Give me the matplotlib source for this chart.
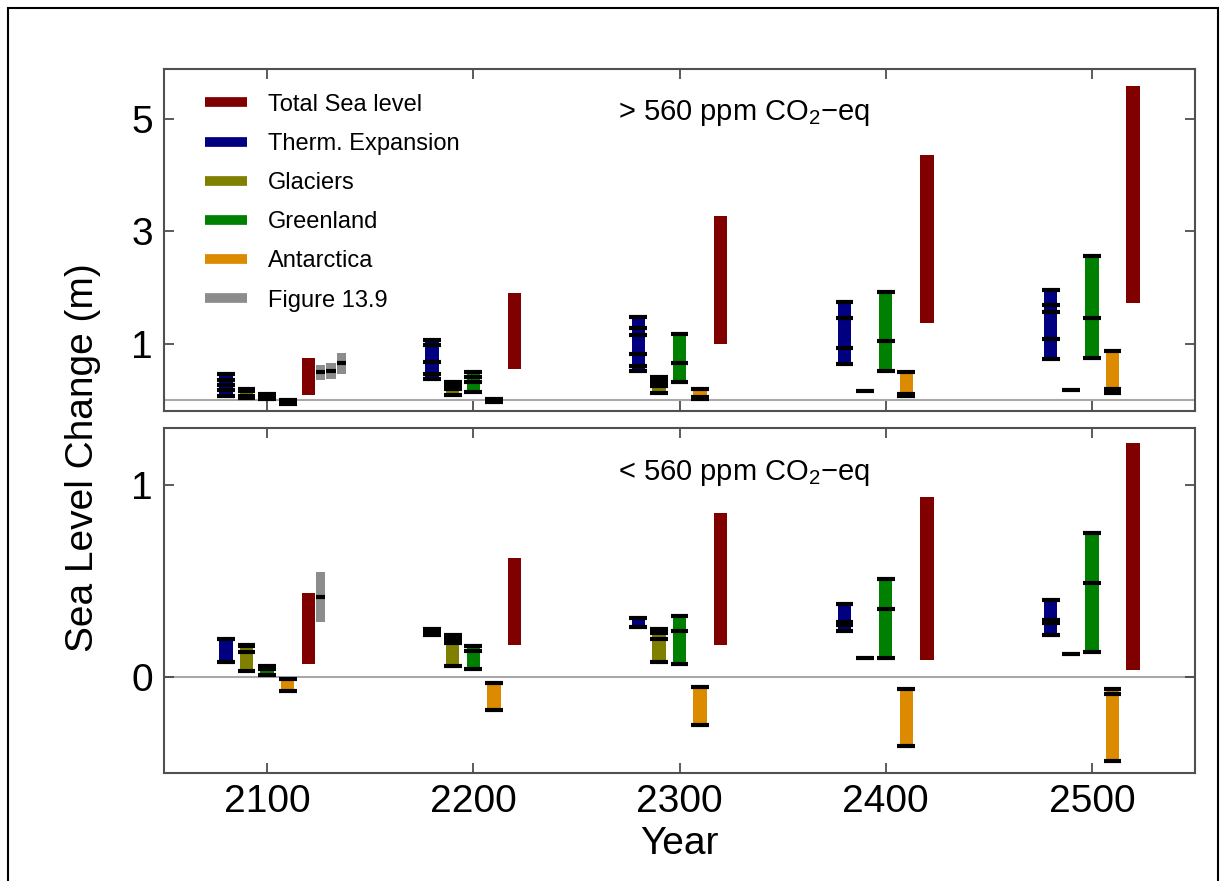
import numpy as np
import matplotlib
matplotlib.use("Agg")
import matplotlib.pyplot as plt
from matplotlib.lines import Line2D
from matplotlib.patches import Rectangle

plt.rcParams['font.family'] = ['Liberation Sans', 'DejaVu Sans']
plt.rcParams['mathtext.fontset'] = 'custom'
plt.rcParams['mathtext.rm'] = 'Liberation Sans'

years = [2100, 2200, 2300, 2400, 2500]

# > 560 ppm: each bar spans min..max, black lines at every value
hi_thermal = [[0.07, 0.17, 0.26, 0.35, 0.46], [0.37, 0.45, 0.68, 0.98, 1.07],
              [0.51, 0.60, 0.82, 1.16, 1.27, 1.48], [0.64, 0.92, 1.45, 1.74],
              [0.72, 1.08, 1.57, 1.68, 1.95]]
hi_glaciers = [[0.03, 0.07, 0.15, 0.19], [0.09, 0.19, 0.25, 0.31],
               [0.12, 0.24, 0.30, 0.36, 0.41], [0.15], [0.17]]
hi_greenland = [[0.02, 0.06, 0.10], [0.14, 0.31, 0.40, 0.50],
                [0.32, 0.65, 1.18], [0.51, 1.05, 1.92], [0.75, 1.46, 2.56]]
hi_antarctica = [[-0.08, -0.03, 0.0], [-0.04, 0.0, 0.02], [0.02, 0.05, 0.19],
                 [0.06, 0.10, 0.50], [0.12, 0.20, 0.87]]
hi_total_lo = [0.09, 0.55, 0.99, 1.36, 1.73]
hi_total_hi = [0.75, 1.90, 3.27, 4.36, 5.59]
hi_fig139_x = [2126, 2131, 2136]
hi_fig139_lo = [0.36, 0.37, 0.46]
hi_fig139_med = [0.50, 0.51, 0.65]
hi_fig139_hi = [0.62, 0.65, 0.84]

# < 560 ppm
lo_thermal = [[0.08, 0.20], [0.22, 0.24, 0.25], [0.26, 0.31],
              [0.24, 0.27, 0.29, 0.38], [0.22, 0.28, 0.30, 0.40]]
lo_glaciers = [[0.03, 0.13, 0.16, 0.17], [0.06, 0.18, 0.20, 0.22],
               [0.08, 0.20, 0.23, 0.25], [0.10], [0.12]]
lo_greenland = [[0.01, 0.04, 0.06], [0.04, 0.135, 0.16], [0.07, 0.24, 0.32],
                [0.10, 0.355, 0.51], [0.13, 0.49, 0.75]]
lo_antarctica = [[-0.07, -0.01], [-0.17, -0.03], [-0.25, -0.05],
                 [-0.36, -0.06], [-0.44, -0.09, -0.06]]
lo_total_lo = [0.07, 0.17, 0.17, 0.09, 0.035]
lo_total_hi = [0.44, 0.62, 0.855, 0.94, 1.22]
lo_fig139_x = [2126]
lo_fig139_lo = [0.29]
lo_fig139_med = [0.42]
lo_fig139_hi = [0.55]

c_total = '#800000'
c_therm = '#000080'
c_glac = '#808000'
c_green = '#008000'
c_ant = '#dc8a00'
c_gray = '#8c8c8c'


def comp_bars(ax, offset, vals, color):
    for yr, v in zip(years, vals):
        x = yr + offset
        lo, hi = min(v), max(v)
        if hi > lo:
            ax.bar(x, hi - lo, bottom=lo, width=6.5, color=color, zorder=2)
        ax.hlines(v, x - 4.3, x + 4.3, colors='k', lw=3.0, zorder=3)


def panel(ax, therm, glac, green, ant, tlo, thi, gx, glo, gmed, ghi):
    ax.axhline(0, color='#a8a8a8', lw=1.5, zorder=1)
    comp_bars(ax, -20, therm, c_therm)
    comp_bars(ax, -10, glac, c_glac)
    comp_bars(ax, 0, green, c_green)
    comp_bars(ax, 10, ant, c_ant)
    ax.bar(np.array(years) + 20, np.array(thi) - np.array(tlo), bottom=tlo,
           width=6.5, color=c_total, zorder=2)
    ax.bar(gx, np.array(ghi) - np.array(glo), bottom=glo, width=4.5,
           color=c_gray, zorder=2)
    ax.hlines(gmed, np.array(gx) - 2.25, np.array(gx) + 2.25, colors='k',
              lw=3.0, zorder=3)
    ax.set_xlim(2050, 2550)
    ax.set_xticks(years)
    ax.tick_params(direction='in', length=7, width=1.2, color='#404040',
                   top=True, right=True, labelsize=28, pad=8)
    for s in ax.spines.values():
        s.set_color('#505050')
        s.set_linewidth(1.5)


fig = plt.figure(figsize=(12.25, 8.81), dpi=100)
ax1 = fig.add_axes([0.1339, 0.5335, 0.8416, 0.3887])
ax2 = fig.add_axes([0.1339, 0.1226, 0.8416, 0.3916])

panel(ax1, hi_thermal, hi_glaciers, hi_greenland, hi_antarctica,
      hi_total_lo, hi_total_hi, hi_fig139_x, hi_fig139_lo, hi_fig139_med, hi_fig139_hi)
ax1.set_ylim(-0.2, 5.9)
ax1.set_yticks([1, 3, 5])
ax1.tick_params(labelbottom=False)

panel(ax2, lo_thermal, lo_glaciers, lo_greenland, lo_antarctica,
      lo_total_lo, lo_total_hi, lo_fig139_x, lo_fig139_lo, lo_fig139_med, lo_fig139_hi)
ax2.set_ylim(-0.5, 1.3)
ax2.set_yticks([0, 1])

ax1.text(0.44, 0.87, r'> 560 ppm CO$_\mathrm{2}$−eq', transform=ax1.transAxes,
         fontsize=21, va='center', ha='left')
ax2.text(0.44, 0.87, r'< 560 ppm CO$_\mathrm{2}$−eq', transform=ax2.transAxes,
         fontsize=21, va='center', ha='left')

names = ['Total Sea level', 'Therm. Expansion', 'Glaciers', 'Greenland',
         'Antarctica', 'Figure 13.9']
cols = [c_total, c_therm, c_glac, c_green, c_ant, c_gray]
handles = [Line2D([], [], color=c, lw=7, solid_capstyle='butt') for c in cols]
ax1.legend(handles, names, loc='upper left', bbox_to_anchor=(0.04, 0.927),
           frameon=False, fontsize=17, handlelength=1.75, handletextpad=0.9,
           labelspacing=0.73, borderpad=0, borderaxespad=0)

ax2.set_xlabel('Year', fontsize=28, labelpad=4)
fig.text(0.068, 0.48, 'Sea Level Change (m)', rotation=90, fontsize=28,
         ha='center', va='center')

fig.patches.append(Rectangle((8 / 1225, -0.02), 1210 / 1225, 1 - 8 / 881 + 0.02,
                             transform=fig.transFigure, fill=False, ec='k', lw=1.5))

fig.savefig('out.png', dpi=100)
